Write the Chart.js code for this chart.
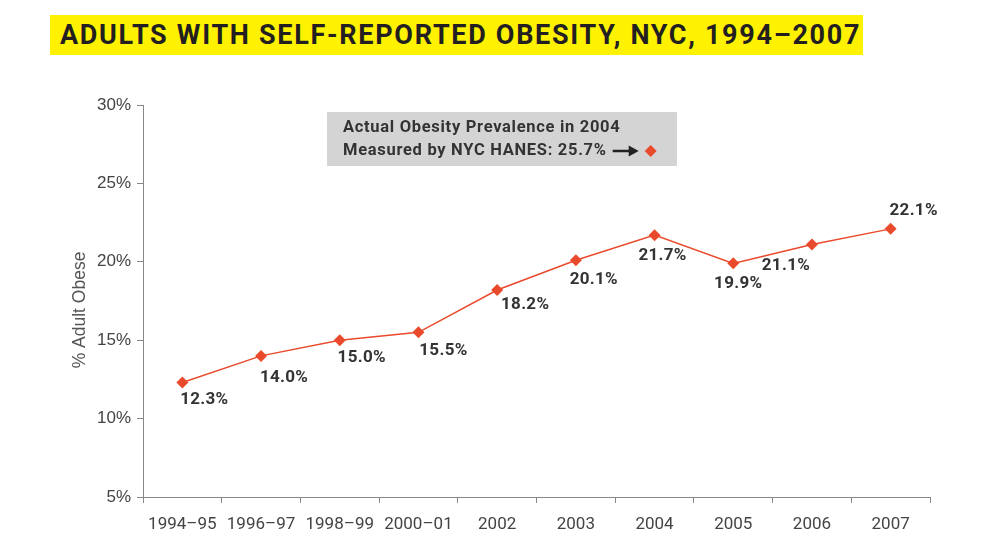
<!DOCTYPE html>
<html>
<head>
<meta charset="utf-8">
<script src="https://cdn.jsdelivr.net/npm/chart.js@4"></script>
<style>
  body { margin: 0; background: #fff; }
  #wrap { position: relative; width: 1000px; height: 546px; }
  #title {
    position: absolute; left: 50px; top: 15px; width: 813px; height: 40px;
    background: #fff200; color: #231f20;
    font: bold 27px Roboto, sans-serif; letter-spacing: 1.7px;
    line-height: 41px; box-sizing: border-box; padding-left: 10px; white-space: nowrap;
  }
  canvas { position: absolute; left: 0; top: 0; }
</style>
</head>
<body>
<div id="wrap">
  <canvas id="myChart" width="1000" height="546"></canvas>
  <div id="title">ADULTS WITH SELF-REPORTED OBESITY, NYC, 1994–2007</div>
</div>
<script>
const years = ['1994–95', '1996–97', '1998–99', '2000–01', '2002', '2003', '2004', '2005', '2006', '2007'];
const obese = [12.3, 14.0, 15.0, 15.5, 18.2, 20.1, 21.7, 19.9, 21.1, 22.1];
const yTicks = [5, 10, 15, 20, 25, 30];
const noteLines = ['Actual Obesity Prevalence in 2004', 'Measured by NYC HANES: 25.7%'];

const red = '#ea4a2c';

// where each value label sits relative to its point (dx, dy of text center)
const labelOffsets = [[22, 17], [23, 22], [22, 18], [25, 18], [28, 15], [18, 20], [8, 21], [5, 20], [-26, 21], [23, -18]];

const extras = {
    id: 'extras',
    afterDatasetsDraw(chart) {
        const ctx = chart.ctx;
        const meta = chart.getDatasetMeta(0);
        ctx.save();
        ctx.font = 'bold 17px Roboto, sans-serif';
        ctx.letterSpacing = '0.3px';
        ctx.fillStyle = '#333';
        ctx.textAlign = 'center';
        ctx.textBaseline = 'middle';
        meta.data.forEach((pt, i) => {
            ctx.fillText(obese[i].toFixed(1) + '%', pt.x + labelOffsets[i][0], pt.y + labelOffsets[i][1]);
        });

        // y axis title
        ctx.save();
        ctx.letterSpacing = '0px';
        ctx.translate(80, 310);
        ctx.rotate(-Math.PI / 2);
        ctx.font = '17.5px "Liberation Sans", sans-serif';
        ctx.fillStyle = '#555';
        ctx.fillText('% Adult Obese', 0, 0);
        ctx.restore();

        // note box
        ctx.fillStyle = '#d4d4d4';
        ctx.fillRect(327, 112, 350, 54);
        ctx.fillStyle = '#333';
        ctx.textAlign = 'left';
        ctx.font = 'bold 16.5px Roboto, sans-serif';
        ctx.letterSpacing = '0.7px';
        ctx.fillText(noteLines[0], 343, 128);
        ctx.fillText(noteLines[1], 343, 151);
        const w = ctx.measureText(noteLines[1]).width;
        const ax = 343 + w + 6;
        ctx.strokeStyle = '#222';
        ctx.lineWidth = 2.5;
        ctx.beginPath();
        ctx.moveTo(ax, 151);
        ctx.lineTo(ax + 20, 151);
        ctx.stroke();
        ctx.fillStyle = '#222';
        ctx.beginPath();
        ctx.moveTo(ax + 26, 151);
        ctx.lineTo(ax + 16, 145.5);
        ctx.lineTo(ax + 16, 156.5);
        ctx.closePath();
        ctx.fill();
        ctx.fillStyle = red;
        const dx = ax + 38;
        ctx.beginPath();
        ctx.moveTo(dx, 145);
        ctx.lineTo(dx + 6, 151);
        ctx.lineTo(dx, 157);
        ctx.lineTo(dx - 6, 151);
        ctx.closePath();
        ctx.fill();
        ctx.restore();
    }
};

const config = {
    type: 'line',
    data: {
        labels: years,
        datasets: [{
            data: obese,
            borderColor: red,
            backgroundColor: red,
            borderWidth: 1.5,
            pointStyle: 'rectRot',
            pointRadius: 6,
            pointBorderWidth: 0,
            tension: 0,
        }],
    },
    options: {
        responsive: false,
        animation: false,
        layout: { padding: { left: 0, top: 105, right: 70, bottom: 0 } },
        plugins: {
            legend: { display: false },
            tooltip: { enabled: false },
        },
        scales: {
            x: {
                offset: true,
                grid: { drawOnChartArea: false, drawTicks: true, tickLength: 6, color: '#888', offset: true },
                border: { color: '#888', width: 1 },
                ticks: { color: '#444', font: { family: 'Roboto', size: 17 }, padding: 12, maxRotation: 0, autoSkip: false },
                afterFit(scale) { scale.height = 49; },
            },
            y: {
                min: 5,
                max: 30,
                afterBuildTicks(scale) { scale.ticks = yTicks.map(v => ({ value: v })); },
                grid: { drawOnChartArea: false, drawTicks: true, tickLength: 6, color: '#888' },
                border: { color: '#888', width: 1 },
                ticks: {
                    color: '#444', font: { family: 'Liberation Sans', size: 17 }, padding: 6,
                    callback: v => v + '%',
                },
                afterFit(scale) { scale.width = 143; },
            },
        },
    },
    plugins: [extras],
};

const ctx = document.getElementById('myChart').getContext('2d');
const myChart = new Chart(ctx, config);
</script>
</body>
</html>
